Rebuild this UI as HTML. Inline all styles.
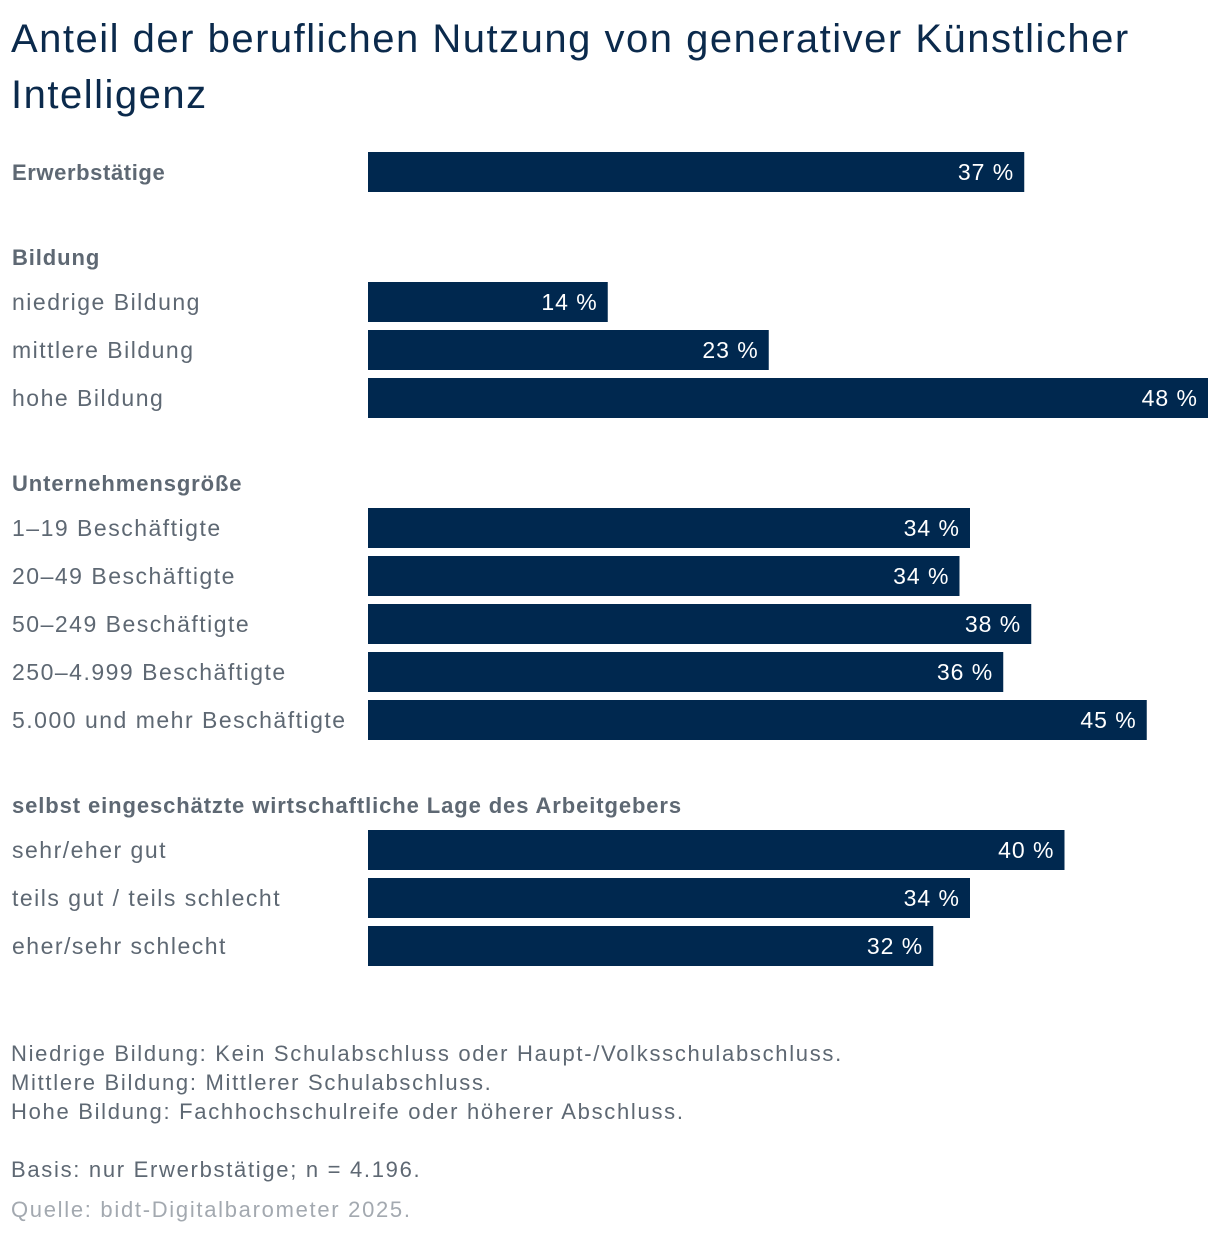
<!DOCTYPE html>
<html><head><meta charset="utf-8"><style>
body{margin:0;width:1220px;height:1236px;background:#fff;font-family:"Liberation Sans",sans-serif;position:relative;overflow:hidden}
#title{position:absolute;left:11px;top:11px;font-size:40px;line-height:56px;color:#0b2a4c;letter-spacing:1.5px;margin:0;font-weight:normal;width:1200px;white-space:nowrap}
.fn{position:absolute;left:11px;font-size:22px;color:#5e6873;letter-spacing:1.7px;white-space:nowrap}
svg{position:absolute;left:0;top:0}
</style></head><body>
<h1 id="title">Anteil der beruflichen Nutzung von generativer Künstlicher<br>Intelligenz</h1>
<svg id="chart" width="1220" height="1000"></svg>
<div class="fn" style="top:1039px;line-height:29px">Niedrige Bildung: Kein Schulabschluss oder Haupt-/Volksschulabschluss.<br>Mittlere Bildung: Mittlerer Schulabschluss.<br>Hohe Bildung: Fachhochschulreife oder höherer Abschluss.</div>
<div class="fn" style="top:1157px">Basis: nur Erwerbstätige; n = 4.196.</div>
<div class="fn" style="top:1197px;color:#a3a9b0">Quelle: bidt-Digitalbarometer 2025.</div>
<script>
const categories=["Erwerbstätige","niedrige Bildung","mittlere Bildung","hohe Bildung","1–19 Beschäftigte","20–49 Beschäftigte","50–249 Beschäftigte","250–4.999 Beschäftigte","5.000 und mehr Beschäftigte","sehr/eher gut","teils gut / teils schlecht","eher/sehr schlecht"];
const values=[37.5,13.7,22.9,48,34.4,33.8,37.9,36.3,44.5,39.8,34.4,32.3];
const valueLabels=["37 %","14 %","23 %","48 %","34 %","34 %","38 %","36 %","45 %","40 %","34 %","32 %"];
const groupHeaders=["Bildung","Unternehmensgröße","selbst eingeschätzte wirtschaftliche Lage des Arbeitgebers"];
const groupStarts=[1,4,9];
const svg=document.getElementById('chart');
const NS='http://www.w3.org/2000/svg';
const x0=368,pxPer=17.5;
const xs=v=>v*pxPer;
const rowY=[152,282,330,378,508,556,604,652,700,830,878,926];
function t(x,y,s,attrs){const e=document.createElementNS(NS,'text');e.setAttribute('x',x);e.setAttribute('y',y);e.textContent=s;for(const k in attrs)e.setAttribute(k,attrs[k]);svg.appendChild(e);return e;}
categories.forEach((c,i)=>{
 const y=rowY[i];
 const r=document.createElementNS(NS,'rect');
 r.setAttribute('x',x0);r.setAttribute('y',y);r.setAttribute('width',xs(values[i]));r.setAttribute('height',40);r.setAttribute('fill','#00284f');
 
 
 svg.appendChild(r);
 const lab=t(12,y+28,c,i==0?{'font-size':'22','fill':'#5e6873','font-weight':'bold','letter-spacing':'0.6'}:{'font-size':'23','fill':'#5e6873','letter-spacing':'1.5'});
 
 
 const v=t(x0+xs(values[i])-10,y+28,valueLabels[i],{'font-size':'23','fill':'#fff','text-anchor':'end','letter-spacing':'1'});
 
 
});
groupHeaders.forEach((h,j)=>{
 const e=t(12,rowY[groupStarts[j]]-17,h,{'font-size':'22','fill':'#5e6873','font-weight':'bold','letter-spacing':'0.9'});
 
 
});
</script>
</body></html>
